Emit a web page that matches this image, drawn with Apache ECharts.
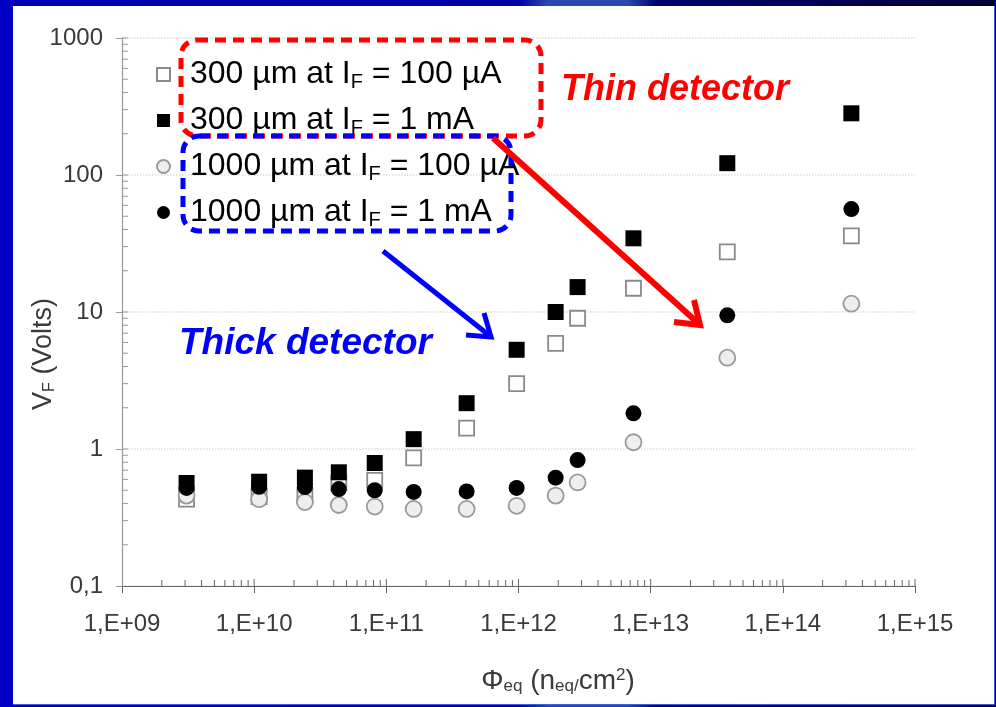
<!DOCTYPE html>
<html>
<head>
<meta charset="utf-8">
<script src="https://cdn.jsdelivr.net/npm/echarts@6/dist/echarts.min.js"></script>
<style>
html, body { margin: 0; padding: 0; }
body {
	width: 996px; height: 707px; overflow: hidden; position: relative;
	background: linear-gradient(90deg, #0000b4 0%, #0000a4 52%, #2a48b0 55%, #2a48b0 63%, #000070 66%, #000038 100%);
}
#leftbar { position: absolute; left: 0; top: 0; width: 13px; height: 707px; background: #0000c4; }
#white { position: absolute; left: 13px; top: 6px; width: 981px; height: 698px; background: #fff;
	border-right: 1px solid #3a5fe0; border-bottom: 1px solid #3a5fe0; }
#main { position: absolute; left: 0; top: 0; width: 996px; height: 707px; }
</style>
</head>
<body>
<div id="leftbar"></div>
<div id="white"></div>
<div id="main"></div>
<script>
// fluence values (n_eq/cm2)
var fluence = [3.08e9, 1.09e10, 2.42e10, 4.37e10, 8.17e10, 1.61e11, 4.05e11, 9.68e11, 1.91e12, 2.80e12, 7.41e12, 3.80e13, 3.30e14];
// forward voltage (V)
var thin100uA = [0.43, 0.45, 0.46, 0.565, 0.59, 0.86, 1.42, 3.0, 5.9, 9.0, 14.9, 27.5, 35.9];
var thin1mA = [0.565, 0.577, 0.618, 0.676, 0.79, 1.18, 2.16, 5.3, 10.0, 15.2, 34.5, 122, 282];
var thick100uA = [0.457, 0.43, 0.41, 0.39, 0.38, 0.365, 0.365, 0.385, 0.457, 0.57, 1.12, 4.64, 11.5];
var thick1mA = [0.52, 0.53, 0.528, 0.51, 0.50, 0.486, 0.49, 0.52, 0.618, 0.83, 1.82, 9.46, 56.4];

var xTickLabels = ['1,E+09', '1,E+10', '1,E+11', '1,E+12', '1,E+13', '1,E+14', '1,E+15'];
var yTickLabels = ['0,1', '1', '10', '100', '1000'];

var names = [
	'300 µm at I{s|F} = 100 µA',
	'300 µm at I{s|F} = 1 mA',
	'1000 µm at I{s|F} = 100 µA',
	'1000 µm at I{s|F} = 1 mA'
];

var font = 'Liberation Sans, Arial, sans-serif';

function pairs(ys) {
	return fluence.map(function (x, i) { return [x, ys[i]]; });
}

// log minor ticks (2..9 per decade) plus inner half of the major ticks
var xMinor = [], yMinor = [];
for (var e = 9; e < 15; e++) {
	for (var m = 2; m <= 10; m++) xMinor.push([m * Math.pow(10, e), 0.1]);
}
for (var e2 = -1; e2 < 3; e2++) {
	for (var m2 = 2; m2 <= 10; m2++) yMinor.push([1e9, m2 * Math.pow(10, e2)]);
}

var myChart = echarts.init(document.getElementById('main'));
var options = {
	backgroundColor: 'transparent',
	animation: false,
	grid: { left: 122, top: 38, width: 793, height: 548 },
	legend: {
		orient: 'vertical',
		left: 151,
		top: 52,
		itemGap: 11,
		itemWidth: 13,
		itemHeight: 13,
		selectedMode: false,
		data: [names[0], names[1], names[2], names[3]],
		formatter: function (n) { return n; },
		textStyle: {
			fontFamily: font, fontSize: 32, color: '#000', lineHeight: 35,
			padding: [0, 0, 0, 15],
			rich: { s: { fontFamily: font, fontSize: 20, lineHeight: 14, verticalAlign: 'bottom', color: '#000' } }
		}
	},
	xAxis: {
		type: 'log', logBase: 10, min: 1e9, max: 1e15,
		axisLine: { lineStyle: { color: '#666', width: 1.2 } },
		axisTick: { show: true, length: 7, lineStyle: { color: '#666' } },
		axisLabel: {
			fontFamily: font, fontSize: 24, color: '#3a3a3a', margin: 26,
			formatter: function (v) { return xTickLabels[Math.round(Math.log10(v)) - 9]; }
		},
		splitLine: { show: false }
	},
	yAxis: {
		type: 'log', logBase: 10, min: 0.1, max: 1000,
		axisLine: { show: true, lineStyle: { color: '#999', width: 1.2 } },
		axisTick: { show: true, length: 6, lineStyle: { color: '#999' } },
		axisLabel: {
			fontFamily: font, fontSize: 24, color: '#3a3a3a', margin: 19,
			formatter: function (v) { return yTickLabels[Math.round(Math.log10(v)) + 1]; }
		},
		splitLine: { show: true, lineStyle: { color: '#dcdcdc', type: 'dotted', width: 1.5 } }
	},
	series: [
		{
			name: names[0], type: 'scatter', symbol: 'rect', symbolSize: 15, z: 2,
			itemStyle: { color: '#fff', borderColor: '#8a8a8a', borderWidth: 1.8, opacity: 1 },
			data: pairs(thin100uA)
		},
		{
			name: names[2], type: 'scatter', symbol: 'circle', symbolSize: 16, z: 3,
			itemStyle: { color: '#eeeeee', borderColor: '#9a9a9a', borderWidth: 1.8, opacity: 1 },
			data: pairs(thick100uA)
		},
		{
			name: names[3], type: 'scatter', symbol: 'circle', symbolSize: 16, z: 4,
			itemStyle: { color: '#000', opacity: 1 },
			data: pairs(thick1mA)
		},
		{
			name: names[1], type: 'scatter', symbol: 'rect', symbolSize: 16, z: 5,
			itemStyle: { color: '#000', opacity: 1 },
			data: pairs(thin1mA)
		},
		{
			type: 'custom', silent: true, z: 1, data: xMinor,
			renderItem: function (params, api) {
				var p = api.coord([api.value(0), api.value(1)]);
				var len = params.dataIndex % 9 === 8 ? 7 : 6;
				return { type: 'line', shape: { x1: p[0], y1: p[1], x2: p[0], y2: p[1] - len },
					style: { stroke: '#666', lineWidth: 1 } };
			}
		},
		{
			type: 'custom', silent: true, z: 1, data: yMinor,
			renderItem: function (params, api) {
				var p = api.coord([api.value(0), api.value(1)]);
				return { type: 'line', shape: { x1: p[0], y1: p[1], x2: p[0] + 6, y2: p[1] },
					style: { stroke: '#999', lineWidth: 1 } };
			}
		}
	],
	graphic: [
		{
			type: 'rect', z: 100, silent: true,
			shape: { x: 181, y: 40, width: 360, height: 96, r: 16 },
			style: { fill: 'none', stroke: '#ff0000', lineWidth: 5, lineDash: [11, 7] }
		},
		{
			type: 'rect', z: 100, silent: true,
			shape: { x: 183, y: 136, width: 328, height: 95, r: 16 },
			style: { fill: 'none', stroke: '#0000ff', lineWidth: 5, lineDash: [11, 7] }
		},
		{
			type: 'text', z: 100, silent: true, x: 561, y: 90,
			style: { text: 'Thin detector', fill: '#ff0000', font: 'italic bold 36px ' + font, verticalAlign: 'middle' }
		},
		{
			type: 'text', z: 100, silent: true, x: 179, y: 344,
			style: { text: 'Thick detector', fill: '#0000ff', font: 'italic bold 37px ' + font, verticalAlign: 'middle' }
		},
		{
			type: 'polyline', z: 100, silent: true,
			shape: { points: [[493, 138], [698, 323]] },
			style: { stroke: '#ff0000', lineWidth: 6 }
		},
		{
			type: 'polyline', z: 100, silent: true,
			shape: { points: [[694, 300], [700, 325], [674, 322]] },
			style: { stroke: '#ff0000', lineWidth: 6, fill: 'none', lineJoin: 'miter' }
		},
		{
			type: 'polyline', z: 100, silent: true,
			shape: { points: [[383, 251], [490, 336]] },
			style: { stroke: '#0000ff', lineWidth: 5 }
		},
		{
			type: 'polyline', z: 100, silent: true,
			shape: { points: [[484, 313], [491, 337], [466, 335]] },
			style: { stroke: '#0000ff', lineWidth: 5, fill: 'none', lineJoin: 'miter' }
		},
		{
			type: 'text', z: 100, silent: true, x: 44, y: 354, rotation: Math.PI / 2,
			style: {
				text: 'V{s|F} (Volts)', fill: '#3a3a3a', font: '27px ' + font,
				align: 'center', verticalAlign: 'middle',
				rich: { s: { fontSize: 16, fontFamily: font, fill: '#3a3a3a', lineHeight: 10, verticalAlign: 'bottom' } }
			}
		},
		{
			type: 'text', z: 100, silent: true, x: 558, y: 681,
			style: {
				text: 'Φ{s|eq} (n{s|eq/}cm{p|2})', fill: '#3a3a3a', font: '28px ' + font,
				align: 'center', verticalAlign: 'middle',
				rich: {
					s: { fontSize: 17, fontFamily: font, fill: '#3a3a3a', lineHeight: 10, verticalAlign: 'bottom' },
					p: { fontSize: 17, fontFamily: font, fill: '#3a3a3a', lineHeight: 10, verticalAlign: 'top' }
				}
			}
		}
	]
};
myChart.setOption(options);
</script>
</body>
</html>
